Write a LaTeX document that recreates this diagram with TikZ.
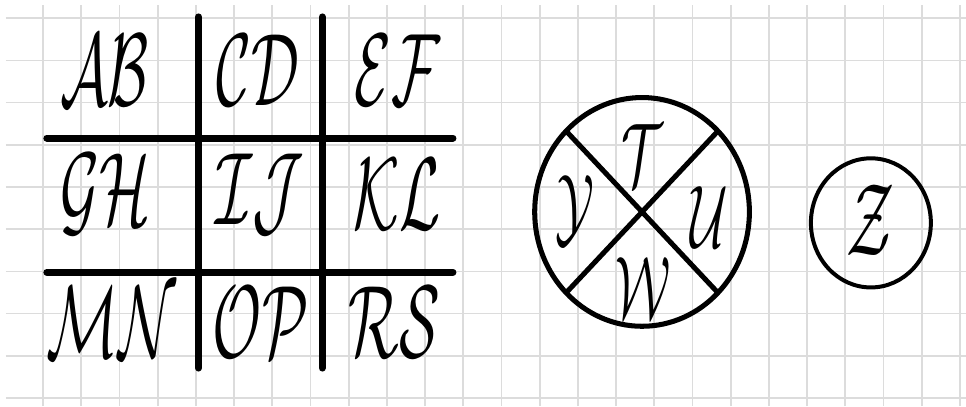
\RequirePackage{fix-cm}
\documentclass[tikz,border=0pt]{standalone}
\usepackage{graphicx}
\usetikzlibrary{arrows}

\definecolor{gridgray}{HTML}{DCDCDC}
\newcommand{\cipher}[1]{\scalebox{0.58}[1]{$\mathcal{#1}$}}
\tikzset{
  glyph/.style={inner sep=0pt, font=\fontsize{88}{88}\selectfont},
  small glyph/.style={inner sep=0pt, font=\fontsize{76}{76}\selectfont},
  bar/.style={line width=6pt, line cap=round},
}

\begin{document}
\begin{tikzpicture}[x=1.146cm,y=1.266cm]
			\useasboundingbox[fill=white](-1.126,-0.19) rectangle (24.16,9.431);
			% squared paper
			\begin{scope}
			\clip(-0.969,-0.19) rectangle (24.16,9.313);
			\foreach \i in {0,...,24}
				\draw[gridgray, line width=1.5pt](\i,-0.19) -- (\i,9.313);
			\foreach \j in {0,...,9}
				\draw[gridgray, line width=1.5pt](-0.969,\j) -- (24.16,\j);
			\end{scope}
			% the grid
			\draw[bar](4.07,9.03) -- (4.07,0.71);
			\draw[bar](7.31,9.03) -- (7.31,0.71);
			\draw[bar](0.10,6.16) -- (10.73,6.16);
			\draw[bar](0.10,2.98) -- (10.73,2.98);
			\node[glyph](ab) at (1.61,7.77) {\cipher{AB}};
			\node[glyph](cd) at (5.62,7.77) {\cipher{CD}};
			\node[glyph](ef) at (9.27,7.77) {\cipher{EF}};
			\node[glyph](gh) at (1.64,4.83) {\cipher{GH}};
			\node[glyph](ij) at (5.68,4.83) {\cipher{IJ}};
			\node[glyph](kl) at (9.27,4.83) {\cipher{KL}};
			\node[glyph](mn) at (1.80,1.80) {\cipher{MN}};
			\node[glyph](op) at (5.70,1.80) {\cipher{OP}};
			\node[glyph](rs) at (9.20,1.80) {\cipher{RS}};
			% the cross
			\draw[line width=4.3pt](15.68,4.41) ellipse[x radius=2.81, y radius=2.71];
			\draw[line width=4.3pt](15.68,4.41) +(135:2.81 and 2.71) -- +(-45:2.81 and 2.71);
			\draw[line width=4.3pt](15.68,4.41) +(45:2.81 and 2.71) -- +(-135:2.81 and 2.71);
			\node[small glyph](t) at (15.67,5.75) {\cipher{T}};
			\node[small glyph](u) at (17.43,4.29) {\cipher{U}};
			\node[small glyph](w) at (15.70,2.61) {\cipher{W}};
			\node[small glyph](y) at (13.93,4.45) {\cipher{Y}};
			% the dot
			\draw[line width=3.4pt](21.67,4.15) ellipse[x radius=1.57, y radius=1.53];
			\node[glyph](z) at (21.67,4.22) {\cipher{Z}};
		\end{tikzpicture}
\end{document}
